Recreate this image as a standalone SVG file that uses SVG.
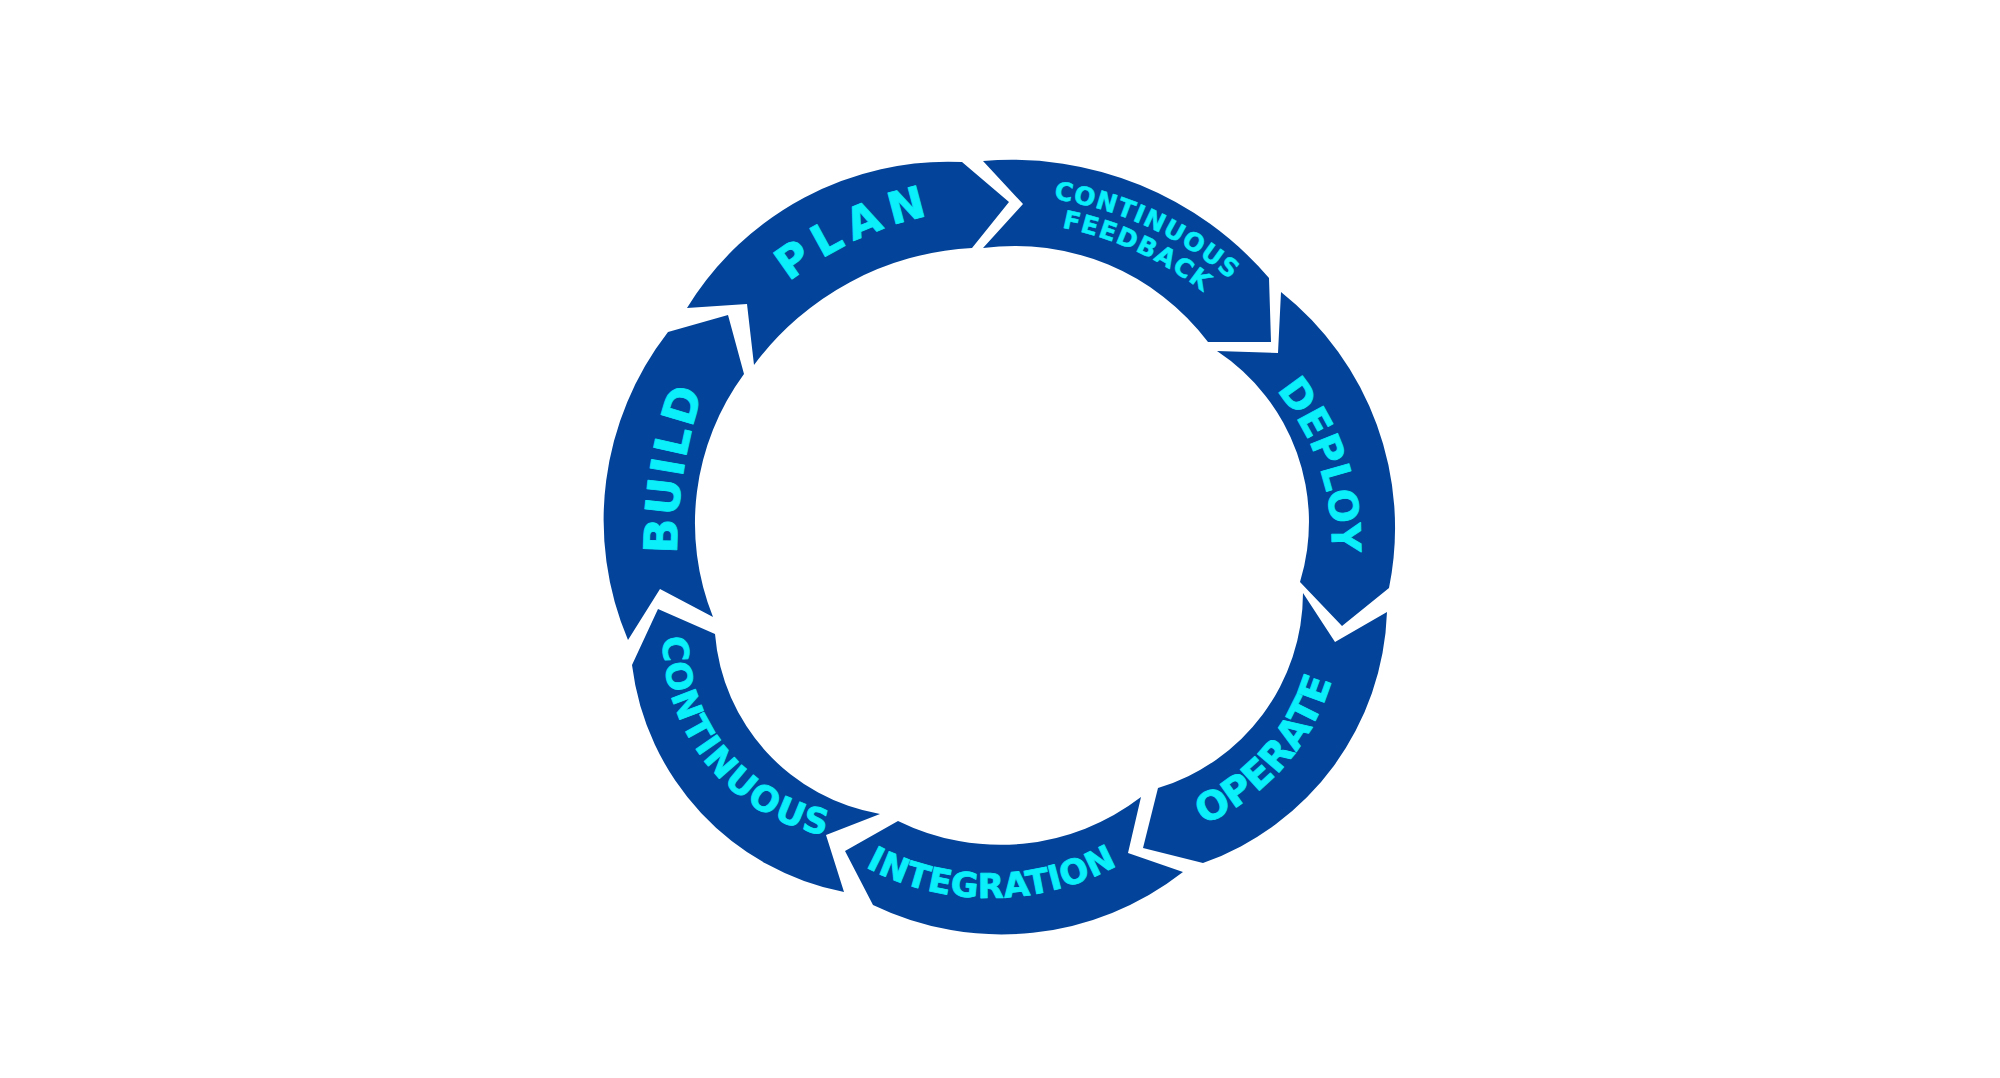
<svg xmlns="http://www.w3.org/2000/svg" xmlns:xlink="http://www.w3.org/1999/xlink" width="2000" height="1078" viewBox="0 0 2000 1078">
<style>
.seg { fill: #03449a; }
.lbl { fill: #0aeffa; stroke: #0aeffa; stroke-width: 0.8; stroke-linejoin: round; font-family: "DejaVu Sans", "Liberation Sans", sans-serif; font-weight: bold; }
</style>
<defs>
<path id="p-plan" d="M662.4,517.2 A340,340 0 0 1 1197,270.2"/>
<path id="p-cf1" d="M849.6,229.1 A353,353 0 0 1 1341.3,454.3"/>
<path id="p-cf2" d="M861.2,253.5 A326,326 0 0 1 1315.3,461.4"/>
<path id="p-deploy" d="M1137.8,308 A240.5,240.5 0 0 1 1272.7,702.1"/>
<path id="p-operate" d="M1068.4,838.4 A227,227 0 0 0 1329.4,544.3"/>
<path id="p-integ" d="M760.6,766.6 A266,266 0 0 0 1221.3,763.4"/>
<path id="p-cont" d="M675.7,569 A200,200 0 0 0 896,836.3"/>
<path id="p-build" d="M709.5,729.8 A503,503 0 0 1 790.8,233.4"/>
</defs>
<rect width="2000" height="1078" fill="#ffffff"/>

<g id="plan">
<path class="seg" d="M687,308 A306,306 0 0 1 962,162 L1009,202 L972,248 A291,291 0 0 0 754,365 L747,304 Z"/>
<text class="lbl" font-size="44" letter-spacing="8"><textPath xlink:href="#p-plan" href="#p-plan" startOffset="50%" text-anchor="middle">PLAN</textPath></text>
</g>

<g id="continuous-feedback">
<path class="seg" d="M983,161 A339,339 0 0 1 1269,278 L1271,342 L1208,342 A242,242 0 0 0 983,248 L1023,204 Z"/>
<text class="lbl" font-size="25" letter-spacing="1" style="stroke-width:0.5"><textPath xlink:href="#p-cf1" href="#p-cf1" startOffset="50%" text-anchor="middle">CONTINUOUS</textPath></text>
<text class="lbl" font-size="25" letter-spacing="1.2" style="stroke-width:0.5"><textPath xlink:href="#p-cf2" href="#p-cf2" startOffset="50%" text-anchor="middle">FEEDBACK</textPath></text>
</g>

<g id="deploy">
<path class="seg" d="M1281,292 A301,301 0 0 1 1389,588 L1342,626 L1300,582 A205,205 0 0 0 1217,351 L1278,353 Z"/>
<text class="lbl" font-size="40"><textPath xlink:href="#p-deploy" href="#p-deploy" startOffset="50%" text-anchor="middle">DEPLOY</textPath></text>
</g>

<g id="operate">
<path class="seg" d="M1387,612 A276,276 0 0 1 1203,863 L1143,848 L1158,788 A204,204 0 0 0 1303,593 L1335,642 Z"/>
<text class="lbl" font-size="39"><textPath xlink:href="#p-operate" href="#p-operate" startOffset="50%" text-anchor="middle">OPERATE</textPath></text>
</g>

<g id="integration">
<path class="seg" d="M1183,872 A295,295 0 0 1 873,905 L845,851 L898,821 A231,231 0 0 0 1141,797 L1128,853 Z"/>
<text class="lbl" font-size="34" letter-spacing="0.4"><textPath xlink:href="#p-integ" href="#p-integ" startOffset="50%" text-anchor="middle">INTEGRATION</textPath></text>
</g>

<g id="continuous">
<path class="seg" d="M844,892 A264,264 0 0 1 632,665 L658,609 L715,634 A199,199 0 0 0 880,814 L826,835 Z"/>
<text class="lbl" font-size="35" letter-spacing="1.7"><textPath xlink:href="#p-cont" href="#p-cont" startOffset="50%" text-anchor="middle">CONTINUOUS</textPath></text>
</g>

<g id="build">
<path class="seg" d="M628,640 A307,307 0 0 1 668,332 L728,315 L744,374 A252,252 0 0 0 713,617 L660,589 Z"/>
<text class="lbl" font-size="46" letter-spacing="2"><textPath xlink:href="#p-build" href="#p-build" startOffset="50%" text-anchor="middle">BUILD</textPath></text>
</g>
</svg>
